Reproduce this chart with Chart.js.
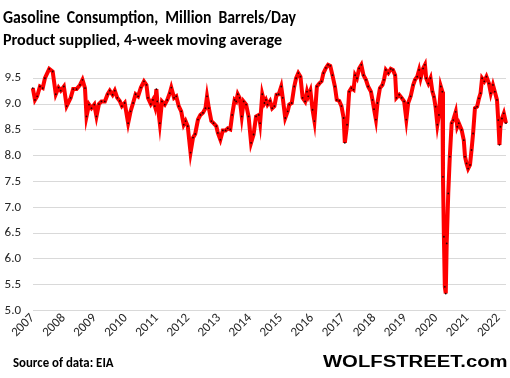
<!DOCTYPE html>
<html>
<head>
<meta charset="utf-8">
<script src="https://cdn.jsdelivr.net/npm/chart.js@4/dist/chart.umd.min.js"></script>
<style>
  html, body { margin: 0; padding: 0; background: #fff; }
  #wrap { position: relative; width: 510px; height: 378px; overflow: hidden; background: #fff; }
  #c { position: absolute; left: 0; top: 0; }
  .txt { position: absolute; white-space: pre; display: inline-block; transform-origin: 0 0; color: #000; line-height: 1.2; }
  #title { font: bold 19px Carlito, Lato, sans-serif; word-spacing: 4px; }
  #subtitle { font: bold 16px Carlito, Lato, sans-serif; }
  #source { font: bold 13px Carlito, Lato, sans-serif; }
  #brand { font: bold 16px "Liberation Sans", Arial, sans-serif; }
</style>
</head>
<body>
<div id="wrap">
  <canvas id="c" width="510" height="378"></canvas>
  <div class="txt" id="title">Gasoline Consumption, Million Barrels/Day</div>
  <div class="txt" id="subtitle">Product supplied, 4-week moving average</div>
  <div class="txt" id="source">Source of data: EIA</div>
  <div class="txt" id="brand">WOLFSTREET.com</div>
</div>
<script>
// ---- data (decimal year, million barrels/day) ----
const dates = [
  2007.01, 2007.08, 2007.15, 2007.24, 2007.33, 2007.40, 2007.54, 2007.65, 2007.75, 2007.84, 2007.91,
  2008.01, 2008.10, 2008.23, 2008.31, 2008.42, 2008.53, 2008.61, 2008.69, 2008.74, 2008.82, 2008.90, 2008.99,
  2009.06, 2009.14, 2009.22, 2009.33, 2009.42, 2009.49, 2009.58, 2009.65, 2009.73, 2009.81, 2009.88, 2009.97,
  2010.08, 2010.16, 2010.24, 2010.32, 2010.40, 2010.49, 2010.59, 2010.67, 2010.72, 2010.81, 2010.88, 2010.94, 2010.99,
  2011.02, 2011.10, 2011.17, 2011.26, 2011.34, 2011.42, 2011.47, 2011.56, 2011.63, 2011.71, 2011.79, 2011.87, 2011.93,
  2012.00, 2012.09, 2012.17, 2012.24, 2012.33, 2012.41, 2012.49, 2012.57, 2012.62, 2012.68, 2012.76, 2012.83, 2012.92, 2012.97,
  2013.05, 2013.13, 2013.22, 2013.29, 2013.37, 2013.43, 2013.51, 2013.56, 2013.61, 2013.67, 2013.74, 2013.80, 2013.88, 2013.96,
  2014.04, 2014.12, 2014.20, 2014.29, 2014.33, 2014.40, 2014.47, 2014.52, 2014.57, 2014.65, 2014.72, 2014.79, 2014.86, 2014.93,
  2015.01, 2015.06, 2015.14, 2015.22, 2015.27, 2015.35, 2015.43, 2015.49, 2015.56, 2015.63, 2015.70, 2015.78, 2015.84, 2015.88, 2015.95,
  2016.02, 2016.08, 2016.16, 2016.24, 2016.31, 2016.37, 2016.45, 2016.52, 2016.59, 2016.66, 2016.74, 2016.80, 2016.88, 2016.95,
  2017.02, 2017.06, 2017.13, 2017.20, 2017.27, 2017.34, 2017.39, 2017.45, 2017.52, 2017.59, 2017.66, 2017.74, 2017.81, 2017.90, 2017.95,
  2018.00, 2018.06, 2018.11, 2018.19, 2018.27, 2018.32, 2018.38, 2018.46, 2018.54, 2018.61, 2018.68, 2018.72, 2018.81, 2018.89, 2018.97,
  2019.04, 2019.10, 2019.18, 2019.26, 2019.32, 2019.39, 2019.45, 2019.50, 2019.58, 2019.64, 2019.68, 2019.75, 2019.82, 2019.88, 2019.93, 2019.98,
  2020.04, 2020.09, 2020.15, 2020.20, 2020.22, 2020.25, 2020.28, 2020.31, 2020.34, 2020.39, 2020.44, 2020.50, 2020.55, 2020.63, 2020.68, 2020.73, 2020.82, 2020.89, 2020.93, 2020.98,
  2021.03, 2021.09, 2021.14, 2021.19, 2021.25, 2021.32, 2021.38, 2021.43, 2021.48, 2021.55, 2021.62, 2021.70, 2021.76, 2021.83, 2021.89, 2021.96,
  2022.00, 2022.04, 2022.07, 2022.12, 2022.18, 2022.25
];
const consumption = [
  9.31, 9.08, 9.15, 9.34, 9.31, 9.50, 9.68, 9.63, 9.19, 9.32, 9.26,
  9.34, 8.96, 9.12, 9.29, 9.29, 9.37, 9.47, 9.31, 8.76, 8.99, 8.92, 8.99,
  8.76, 9.00, 9.05, 9.05, 9.19, 9.26, 9.18, 9.26, 9.12, 9.06, 8.96, 9.02,
  8.63, 8.86, 9.02, 9.19, 9.15, 9.32, 9.44, 9.37, 9.12, 9.00, 9.08, 8.96, 9.29,
  9.05, 8.63, 9.05, 8.99, 9.08, 9.21, 9.32, 9.12, 9.15, 8.96, 8.86, 8.60, 8.67,
  8.57, 8.06, 8.35, 8.42, 8.70, 8.79, 8.83, 8.92, 9.15, 8.92, 8.67, 8.63, 8.57, 8.44,
  8.31, 8.49, 8.49, 8.53, 8.51, 8.79, 9.08, 9.05, 9.19, 9.12, 8.76, 9.05, 8.99, 8.76,
  8.25, 8.41, 8.76, 8.79, 8.63, 9.19, 9.02, 9.08, 8.99, 9.06, 8.92, 8.96, 9.18, 9.19,
  9.34, 9.12, 8.73, 8.86, 8.99, 9.02, 9.34, 9.50, 9.60, 9.53, 9.12, 9.05, 9.24, 9.15, 9.26,
  8.89, 8.67, 9.34, 9.40, 9.44, 9.60, 9.70, 9.76, 9.74, 9.56, 9.34, 9.08, 9.06, 8.96,
  8.73, 8.25, 8.60, 9.24, 9.31, 9.28, 9.56, 9.50, 9.69, 9.76, 9.56, 9.47, 9.34, 9.24, 9.08,
  8.90, 8.70, 9.02, 9.31, 9.37, 9.47, 9.66, 9.60, 9.68, 9.66, 9.56, 9.12, 9.18, 9.12, 9.05,
  8.70, 9.02, 9.15, 9.37, 9.47, 9.53, 9.66, 9.50, 9.69, 9.76, 9.50, 9.40, 9.50, 9.24, 9.14, 8.95,
  8.60, 8.79, 9.34, 9.24, 7.59, 6.43, 5.46, 5.33, 6.30, 7.27, 7.98, 8.63, 8.69, 8.85, 8.56, 8.63, 8.50, 8.30, 7.98, 7.85,
  7.75, 7.82, 8.11, 8.43, 8.92, 8.95, 9.11, 9.21, 9.50, 9.44, 9.53, 9.40, 9.21, 9.37, 9.24, 9.08,
  8.69, 8.21, 8.56, 8.72, 8.82, 8.63
];
const yearTicks = [2007, 2008, 2009, 2010, 2011, 2012, 2013, 2014, 2015, 2016, 2017, 2018, 2019, 2020, 2021, 2022];
const valueTicks = [5.0, 5.5, 6.0, 6.5, 7.0, 7.5, 8.0, 8.5, 9.0, 9.5];

function placeText(id, x, baseline, width) {
  const el = document.getElementById(id);
  el.style.left = x + 'px';
  el.style.top = '0px';
  el.style.transform = 'none';
  const m = document.createElement('span');
  m.style.display = 'inline-block'; m.style.width = '0px'; m.style.height = '0px';
  el.appendChild(m);
  const b = m.getBoundingClientRect().bottom - el.getBoundingClientRect().top;
  el.removeChild(m);
  const w = el.getBoundingClientRect().width;
  el.style.top = (baseline - b) + 'px';
  el.style.transform = 'scaleX(' + (width / w) + ')';
}

function build() {
  placeText('title', 3, 23, 293);
  placeText('subtitle', 3, 45, 279);
  placeText('source', 12.7, 366.5, 100.6);
  placeText('brand', 322.7, 366.7, 184.6);

  const tickFont = { family: 'Carlito, Lato, sans-serif', size: 13 };
  new Chart(document.getElementById('c'), {
    type: 'line',
    data: {
      datasets: [{
        data: dates.map((d, i) => ({ x: d, y: consumption[i] })),
        borderColor: '#ff0000',
        borderWidth: 4,
        pointRadius: 0.9,
        pointBackgroundColor: '#2a0000',
        pointBorderWidth: 0,
        tension: 0,
        clip: false
      }]
    },
    options: {
      responsive: false,
      animation: false,
      events: [],
      layout: { padding: { top: 55, right: 3, bottom: 0, left: 0 } },
      plugins: { legend: { display: false }, tooltip: { enabled: false }, title: { display: false } },
      scales: {
        x: {
          type: 'linear',
          min: 2007,
          max: 2022.25,
          grid: { display: false, drawTicks: false },
          border: { display: false },
          afterBuildTicks: s => { s.ticks = yearTicks.map(v => ({ value: v })); },
          afterFit: s => { s.height = 67.4; },
          ticks: {
            autoSkip: false,
            maxRotation: 45,
            minRotation: 45,
            padding: 0,
            color: '#262626',
            font: tickFont,
            callback: v => String(v)
          }
        },
        y: {
          min: 5,
          max: 9.95,
          grid: { color: '#d9d9d9', lineWidth: 1, drawTicks: false },
          border: { display: false },
          afterBuildTicks: s => { s.ticks = valueTicks.map(v => ({ value: v })); },
          afterFit: s => { s.width = 32.5; },
          ticks: {
            padding: 11.5,
            color: '#262626',
            font: tickFont,
            callback: v => v.toFixed(1)
          }
        }
      }
    }
  });
}
if (document.fonts && document.fonts.ready) { document.fonts.ready.then(build); } else { build(); }
</script>
</body>
</html>
